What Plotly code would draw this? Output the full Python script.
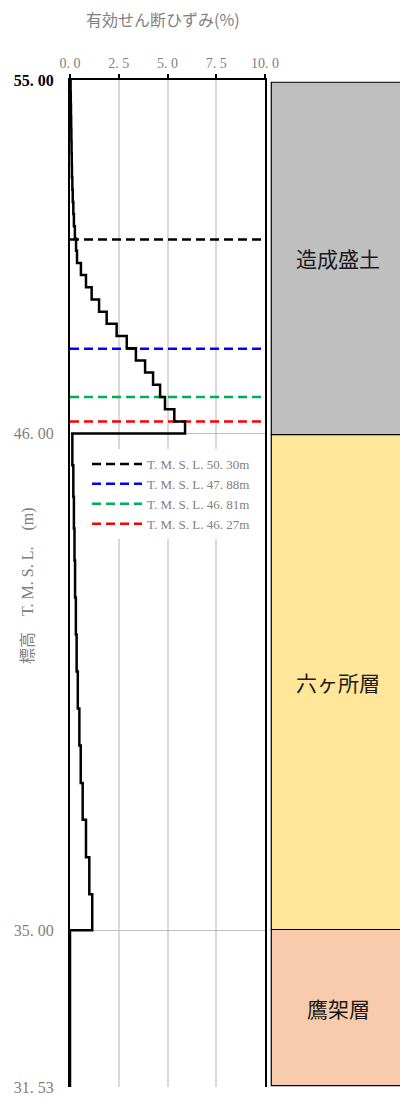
import plotly.graph_objects as go

# ---------------- data ----------------
# 造成盛土 : layer boundaries (elevation, m) and effective shear strain (%)
fill_bounds = [53.83, 53.56, 53.29, 53.02, 52.75, 52.48, 52.21, 51.94, 51.67, 51.40,
               51.13, 50.86, 50.59, 50.32, 50.05, 49.78, 49.51, 49.24, 48.97, 48.70,
               48.43, 48.16, 47.89, 47.62, 47.35, 47.08, 46.81, 46.54, 46.27, 46.00]
fill_strain = [0.03, 0.04, 0.05, 0.06, 0.07, 0.08, 0.09, 0.10, 0.12, 0.14,
               0.17, 0.20, 0.25, 0.31, 0.36, 0.56, 0.82, 1.11, 1.49, 1.88,
               2.39, 2.91, 3.38, 3.85, 4.26, 4.62, 4.87, 5.35, 5.90]

# 六ヶ所層
rok_bounds = [46.00, 45.30, 44.60, 43.90, 43.19, 42.37, 41.55, 40.73, 39.91, 39.09,
              38.26, 37.45, 36.62, 35.80, 35.00]
rok_strain = [0.12, 0.17, 0.20, 0.23, 0.26, 0.30, 0.34, 0.40, 0.48, 0.55,
              0.65, 0.82, 0.99, 1.14]

# 鷹架層
tak_bounds = [35.00, 31.53]
tak_strain = [0.00]

# reference levels
ref_levels = [50.30, 47.88, 46.81, 46.27]
ref_labels = ["T. M. S. L. 50. 30m", "T. M. S. L. 47. 88m",
              "T. M. S. L. 46. 81m", "T. M. S. L. 46. 27m"]
ref_colors = ["#000000", "#0000FF", "#00B050", "#FF0000"]

# axes
x_ticks = [0, 2.5, 5, 7.5, 10]
x_ticktext = ["0. 0", "2. 5", "5. 0", "7. 5", "10. 0"]
y_ticks = [31.53, 35.00, 46.00, 53.83]
y_ticktext = ["31. 53", "35. 00", "46. 00",
              "<span style='color:#000000'><b>55. 00</b></span>"]

# soil column
soil_names = ["造成盛土", "六ヶ所層", "鷹架層"]
soil_top = [53.83, 46.00, 35.00]
soil_bottom = [46.00, 35.00, 31.53]
soil_colors = ["#BFBFBF", "#FFE699", "#F8CBAD"]

# ---------------- figure ----------------
W, H = 400, 1100
PLOT_TOP, PLOT_BOT = 80, 1087
PLOT_L, PLOT_R = 70, 265
COL_L = 270
MT, MB = PLOT_TOP, H - PLOT_BOT
PH = H - MT - MB
SERIF = "Liberation Serif, Noto Sans CJK JP"
CJK = "Noto Sans CJK JP"
GRAY = "#808080"


def py(y):
    return (PLOT_BOT - y) / PH


def px(x):
    return x / W


fig = go.Figure()

for lvl, lab, col in zip(ref_levels, ref_labels, ref_colors):
    fig.add_trace(go.Scatter(
        x=[x_ticks[0], x_ticks[-1]], y=[lvl, lvl], mode="lines", name=lab,
        line=dict(color=col, width=2.5, dash="9px,5px"),
        xaxis="x", yaxis="y", hoverinfo="skip"))

bounds = fill_bounds + rok_bounds[1:] + tak_bounds[1:]
strain = fill_strain + rok_strain + tak_strain
fig.add_trace(go.Scatter(
    x=strain + [strain[-1]], y=bounds, mode="lines", line_shape="vh",
    line=dict(color="#000000", width=2.5), showlegend=False,
    xaxis="x", yaxis="y", hoverinfo="skip"))

fig.add_trace(go.Bar(
    x=[0.75] * len(soil_names),
    y=[t - b for t, b in zip(soil_top, soil_bottom)],
    base=soil_bottom, width=[1.5] * len(soil_names),
    marker=dict(color=soil_colors, line=dict(color="#000000", width=1.2)),
    xaxis="x2", yaxis="y2", showlegend=False, hoverinfo="skip"))

annotations = []
col_w = W - COL_L
for name, t, b in zip(soil_names, soil_top, soil_bottom):
    annotations.append(dict(
        x=(338 - COL_L) / col_w * 1.01 - 0.01, y=(t + b) / 2,
        xref="x2", yref="y2", text=name, showarrow=False,
        font=dict(family=CJK, size=21, color="#1a1a1a"),
        xanchor="center", yanchor="middle"))

annotations.append(dict(
    x=px(163), y=py(19), xref="paper", yref="paper",
    text="有効せん断ひずみ(%)", showarrow=False,
    font=dict(family=CJK, size=16, color=GRAY),
    xanchor="center", yanchor="middle"))
annotations.append(dict(
    x=px(28), y=py(586), xref="paper", yref="paper",
    text="標高　T. M. S. L.　(m)", showarrow=False, textangle=-90,
    font=dict(family=SERIF, size=16, color=GRAY),
    xanchor="center", yanchor="middle"))

fig.update_layout(
    width=W, height=H,
    margin=dict(l=0, r=0, t=MT, b=MB, autoexpand=False),
    paper_bgcolor="white", plot_bgcolor="white",
    barmode="overlay",
    showlegend=True,
    legend=dict(
        x=px(87), y=py(449), xanchor="left", yanchor="top",
        bgcolor="white", borderwidth=0, itemwidth=50, tracegroupgap=0,
        font=dict(family=SERIF, size=13, color=GRAY)),
    xaxis=dict(
        domain=[PLOT_L / W, PLOT_R / W], range=[x_ticks[0], x_ticks[-1]], side="top",
        tickvals=x_ticks, ticktext=x_ticktext,
        tickfont=dict(family=SERIF, size=14, color=GRAY),
        ticks="outside", ticklen=4, tickwidth=1.5, tickcolor="#000000",
        showline=True, linecolor="#000000", linewidth=2, mirror=False,
        showgrid=True, gridcolor="#D9D9D9", gridwidth=1.5, zeroline=False,
        anchor="y", fixedrange=True),
    yaxis=dict(
        domain=[0, 1], range=[tak_bounds[-1], fill_bounds[0]],
        tickvals=y_ticks, ticktext=y_ticktext,
        tickfont=dict(family=SERIF, size=16, color=GRAY),
        ticks="", ticklabelstandoff=11,
        showline=True, linecolor="#000000", linewidth=2, mirror=True,
        showgrid=True, gridcolor="#BFBFBF", gridwidth=1, zeroline=False,
        anchor="x", fixedrange=True),
    xaxis2=dict(domain=[COL_L / W, 1], range=[-0.01, 1], visible=False,
                anchor="y2", fixedrange=True),
    yaxis2=dict(domain=[0, 1], range=[31.50, 53.88], visible=False,
                anchor="x2", fixedrange=True),
    annotations=annotations,
)

fig.write_html(
    "out.html",
    config={"displayModeBar": False},
    post_script="document.body.style.margin='0';document.body.style.overflow='hidden';",
)
